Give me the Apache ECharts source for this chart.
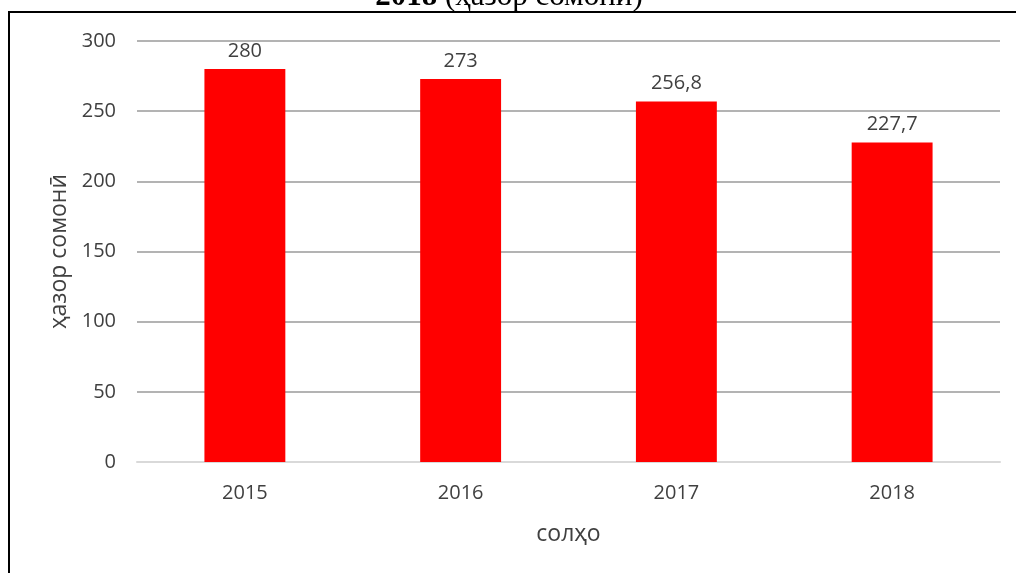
<!DOCTYPE html>
<html><head><meta charset="utf-8">
<script src="https://cdn.jsdelivr.net/npm/echarts@6/dist/echarts.min.js"></script>
<style>html,body{margin:0;padding:0;background:#fff}#c{width:1016px;height:573px}</style>
</head><body><div id="c"></div>
<script>
const categories = ['2015', '2016', '2017', '2018'];
const values = [280, 273, 256.8, 227.7];
const yTicks = [0, 50, 100, 150, 200, 250, 300];
const titleYear = '2018';
const titleUnit = ' (ҳазор сомонӣ)';
const yName = 'ҳазор сомонӣ';
const xName = 'солҳо';

const chart = echarts.init(document.getElementById('c'), null, {renderer: 'canvas'});
const labelColor = '#404040';
const font = 'Open Sans';
chart.setOption({
  animation: false,
  backgroundColor: '#fff',
  graphic: [{
    type: 'rect', shape: {x: 9, y: 12, width: 1100, height: 700},
    style: {fill: 'none', stroke: '#000', lineWidth: 2}, z: 100
  }, {
    type: 'text', x: 509, y: -3, z: 50,
    style: {
      text: '{b|' + titleYear + '}{r|' + titleUnit + '}',
      align: 'center', verticalAlign: 'middle',
      rich: {
        b: {fontFamily: 'Liberation Serif', fontWeight: 'bold', fontSize: 31, fill: '#000'},
        r: {fontFamily: 'Liberation Serif', fontWeight: 'normal', fontSize: 31, fill: '#000'}
      }
    }
  }],
  grid: {left: 137, right: 16, top: 41, bottom: 111, containLabel: false},
  xAxis: {
    type: 'category', data: categories,
    name: xName, nameLocation: 'middle', nameGap: 61,
    nameTextStyle: {fontFamily: font, fontSize: 23, color: labelColor},
    axisLine: {show: true, lineStyle: {color: '#d9d9d9', width: 2}},
    axisTick: {show: false},
    axisLabel: {fontFamily: font, fontSize: 20, color: labelColor, margin: 21}
  },
  yAxis: {
    type: 'value', min: yTicks[0], max: yTicks[yTicks.length - 1], interval: 50,
    name: yName, nameLocation: 'middle', nameGap: 64, nameRotate: 90,
    nameTextStyle: {fontFamily: font, fontSize: 23, color: labelColor},
    axisLine: {show: false}, axisTick: {show: false},
    axisLabel: {fontFamily: font, fontSize: 20, color: labelColor, margin: 21},
    splitLine: {lineStyle: {color: '#b3b3b3', width: 2}}
  },
  series: [{
    type: 'bar', data: values, barWidth: '37.5%',
    itemStyle: {color: '#ff0000'},
    label: {
      show: true, position: 'top', distance: 8,
      fontFamily: font, fontSize: 20, color: labelColor,
      formatter: p => String(p.value).replace('.', ',')
    }
  }]
});
</script></body></html>
